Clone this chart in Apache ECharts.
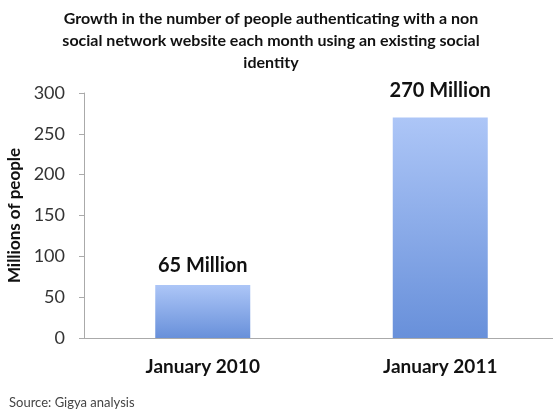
<!DOCTYPE html>
<html><head><meta charset="utf-8">
<script src="https://cdn.jsdelivr.net/npm/echarts@6/dist/echarts.min.js"></script>
<style>html,body{margin:0;padding:0;background:#fff}#c{width:553px;height:409px}</style>
</head><body><div id="c"></div>
<script>
const categories = ['January 2010', 'January 2011'];
const values = [65, 270];
const valueLabels = ['65 Million', '270 Million'];
const yTicks = [0, 50, 100, 150, 200, 250, 300];
const titleText = 'Growth in the number of people authenticating with a non\nsocial network website each month using an existing social\nidentity';
const yName = 'Millions of people';
const sourceText = 'Source: Gigya analysis';

const chart = echarts.init(document.getElementById('c'), null, {renderer: 'canvas'});
const labelDist = [9, 17];
chart.setOption({
  animation: false,
  backgroundColor: '#fff',
  title: [{
    text: titleText, left: 266, textAlign: 'center', top: 3,
    textStyle: {fontFamily: 'Lato', fontWeight: 'bold', fontSize: 16, lineHeight: 22, color: '#111'}
  }, {
    text: sourceText, left: 4, top: 391,
    textStyle: {fontFamily: 'Lato', fontWeight: 'normal', fontSize: 13, color: '#444'}
  }],
  grid: {left: 84, right: -6, top: 93, bottom: 71, containLabel: false, outerBoundsMode: 'none'},
  xAxis: {
    type: 'category', data: categories,
    axisLine: {lineStyle: {color: '#aaa'}},
    axisTick: {show: false},
    axisLabel: {margin: 19, fontFamily: 'Lato', fontWeight: 'bold', fontSize: 19, color: '#111'}
  },
  yAxis: {
    type: 'value', min: yTicks[0], max: yTicks[yTicks.length-1], interval: 50,
    name: yName, nameLocation: 'middle', nameGap: 44, nameRotate: 90,
    nameTextStyle: {fontFamily: 'Lato', fontWeight: 'bold', fontSize: 17, color: '#111'},
    axisLine: {show: true, lineStyle: {color: '#aaa'}},
    axisTick: {show: true, length: 5, lineStyle: {color: '#aaa'}},
    splitLine: {show: false},
    axisLabel: {margin: 19, fontFamily: 'Lato', fontSize: 18, color: '#333'}
  },
  series: [{
    type: 'bar', barWidth: 95,
    data: values.map((v, i) => ({
      value: v,
      label: {show: true, position: 'top', distance: labelDist[i], formatter: valueLabels[i],
        fontFamily: 'Lato', fontWeight: 'bold', fontSize: 20, color: '#111'}
    })),
    itemStyle: {
      color: new echarts.graphic.LinearGradient(0, 0, 0, 1, [
        {offset: 0, color: '#adc6f7'},
        {offset: 1, color: '#6890da'}
      ])
    }
  }]
});
</script></body></html>
